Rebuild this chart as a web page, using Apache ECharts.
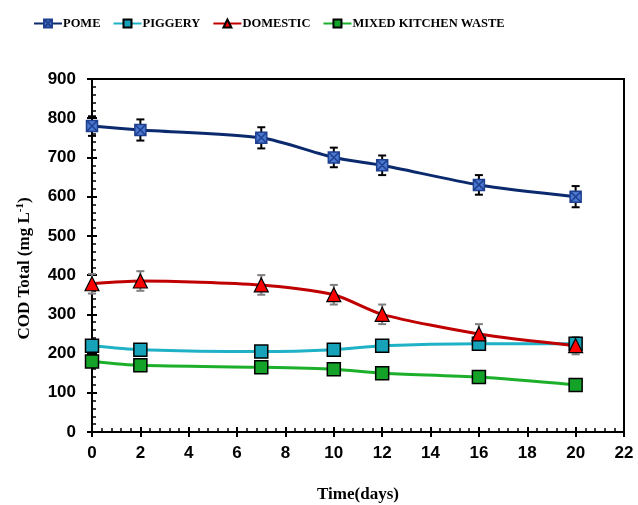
<!DOCTYPE html>
<html>
<head>
<meta charset="utf-8">
<script src="https://cdn.jsdelivr.net/npm/echarts@6/dist/echarts.min.js"></script>
<style>
  html, body { margin: 0; padding: 0; background: #fff; }
  #chart { width: 638px; height: 505px; }
</style>
</head>
<body>
<div id="chart"></div>
<script>
// Sampling days
const days = [0, 2, 7, 10, 12, 16, 20];

// COD total (mg L-1) per wastewater type
const pome     = [780, 770, 750, 700, 680, 630, 600];
const piggery  = [220, 210, 205, 210, 220, 225, 225];
const domestic = [378, 385, 375, 350, 300, 250, 220];
const kitchen  = [180, 170, 165, 160, 150, 140, 120];

// Standard deviations shown as error bars
const pomeErr     = [25, 27, 27, 25, 25, 25, 27];
const domesticErr = [25, 25, 25, 25, 25, 25, 22];

const xTicks = [0, 2, 4, 6, 8, 10, 12, 14, 16, 18, 20, 22];
const yTicks = [0, 100, 200, 300, 400, 500, 600, 700, 800, 900];

const pair = (vals) => days.map((d, i) => [d, vals[i]]);
const bars = (vals, errs) => days.map((d, i) => [d, vals[i] - errs[i], vals[i] + errs[i]]);

function errorBarSeries(data, color) {
  return {
    type: 'custom',
    z: 1,
    silent: true,
    data: data,
    renderItem: function (params, api) {
      const x = api.value(0);
      const lo = api.coord([x, api.value(1)]);
      const hi = api.coord([x, api.value(2)]);
      const w = 4;
      const st = { stroke: color, lineWidth: 2 };
      return {
        type: 'group',
        children: [
          { type: 'line', shape: { x1: lo[0], y1: lo[1], x2: hi[0], y2: hi[1] }, style: st },
          { type: 'line', shape: { x1: lo[0] - w, y1: lo[1], x2: lo[0] + w, y2: lo[1] }, style: st },
          { type: 'line', shape: { x1: hi[0] - w, y1: hi[1], x2: hi[0] + w, y2: hi[1] }, style: st }
        ]
      };
    }
  };
}

const crossSquare = 'path://M0,0 L10,0 L10,10 L0,10 Z M0,0 L10,10 M10,0 L0,10';

const tickFont = { fontFamily: 'Liberation Sans, Arial, sans-serif', fontWeight: 'bold', fontSize: 17, color: '#000' };
const titleFont = { fontFamily: 'Liberation Serif, Times New Roman, serif', fontWeight: 'bold', fontSize: 17, color: '#000' };
const black2 = { color: '#000', width: 2 };

// Inner copies of the axes carry the inward half of the major ticks and the minor ticks
const innerX = {
  type: 'value', min: 0, max: 22, interval: 2, position: 'bottom',
  axisLine: { show: false },
  axisTick: { show: true, inside: true, length: 5, lineStyle: black2 },
  minorTick: { show: true, splitNumber: 5, length: 4, lineStyle: { color: '#000', width: 1.5 } },
  axisLabel: { show: false }, splitLine: { show: false }
};
const innerY = {
  type: 'value', min: 0, max: 900, interval: 100, position: 'left',
  axisLine: { show: false },
  axisTick: { show: true, inside: true, length: 5, lineStyle: black2 },
  minorTick: { show: true, splitNumber: 5, length: 4, lineStyle: { color: '#000', width: 1.5 } },
  axisLabel: { show: false }, splitLine: { show: false }
};

const chart = echarts.init(document.getElementById('chart'));
chart.setOption({
  animation: false,
  backgroundColor: '#fff',
  legend: {
    left: 28,
    top: 12,
    itemWidth: 28,
    itemHeight: 10,
    itemGap: 12,
    textStyle: { fontFamily: 'Liberation Serif, Times New Roman, serif', fontWeight: 'bold', fontSize: 12.5, color: '#000', padding: [0, 0, 0, -4] },
    data: ['POME', 'PIGGERY', 'DOMESTIC', 'MIXED KITCHEN WASTE']
  },
  grid: {
    left: 92, right: 14, top: 79, bottom: 73,
    outerBoundsMode: 'none',
    show: true, borderColor: '#000', borderWidth: 2
  },
  xAxis: [{
    type: 'value',
    min: 0, max: 22, interval: 2,
    name: 'Time(days)',
    nameLocation: 'middle',
    nameGap: 54,
    nameTextStyle: titleFont,
    axisLine: { show: true, onZero: false, lineStyle: black2 },
    axisTick: { show: true, inside: false, length: 5, lineStyle: black2 },
    splitLine: { show: false },
    axisLabel: Object.assign({ margin: 13, formatter: (v) => xTicks.includes(v) ? String(v) : '' }, tickFont)
  }, innerX],
  yAxis: [{
    type: 'value',
    min: 0, max: 900, interval: 100,
    name: 'COD Total (mg L{sup|-1})',
    nameLocation: 'middle',
    nameGap: 58,
    nameTextStyle: Object.assign({
      padding: [0, 26, 0, 0],
      rich: {
        sup: { fontFamily: 'Liberation Serif, Times New Roman, serif', fontWeight: 'bold', fontSize: 11, color: '#000', verticalAlign: 'top', padding: [0, 0, 8, 0] }
      }
    }, titleFont),
    axisLine: { show: true, lineStyle: black2 },
    axisTick: { show: true, inside: false, length: 5, lineStyle: black2 },
    splitLine: { show: false },
    axisLabel: Object.assign({ margin: 16, formatter: (v) => yTicks.includes(v) ? String(v) : '' }, tickFont)
  }, innerY],
  series: [
    errorBarSeries(bars(pome, pomeErr), '#000'),
    errorBarSeries(bars(domestic, domesticErr), '#7f7f7f'),
    {
      name: 'POME', type: 'line', z: 3, smooth: 0.25,
      data: pair(pome),
      symbol: crossSquare, symbolSize: 11,
      lineStyle: { color: '#0b2a6e', width: 3 },
      itemStyle: { color: '#4a78d0', borderColor: '#1f3f8f', borderWidth: 1.5 }
    },
    {
      name: 'PIGGERY', type: 'line', z: 3, smooth: 0.25,
      data: pair(piggery),
      symbol: 'rect', symbolSize: 13,
      lineStyle: { color: '#1fb1c6', width: 3 },
      itemStyle: { color: '#16a2b8', borderColor: '#000', borderWidth: 1.5 }
    },
    {
      name: 'DOMESTIC', type: 'line', z: 3, smooth: 0.25,
      data: pair(domestic),
      symbol: 'triangle', symbolSize: 14,
      lineStyle: { color: '#c00000', width: 3 },
      itemStyle: { color: '#ff0000', borderColor: '#000', borderWidth: 1.2 }
    },
    {
      name: 'MIXED KITCHEN WASTE', type: 'line', z: 3, smooth: 0.25,
      data: pair(kitchen),
      symbol: 'rect', symbolSize: 13,
      lineStyle: { color: '#1cb02a', width: 3 },
      itemStyle: { color: '#14a328', borderColor: '#000', borderWidth: 1.5 }
    }
  ]
});
</script>
</body>
</html>
